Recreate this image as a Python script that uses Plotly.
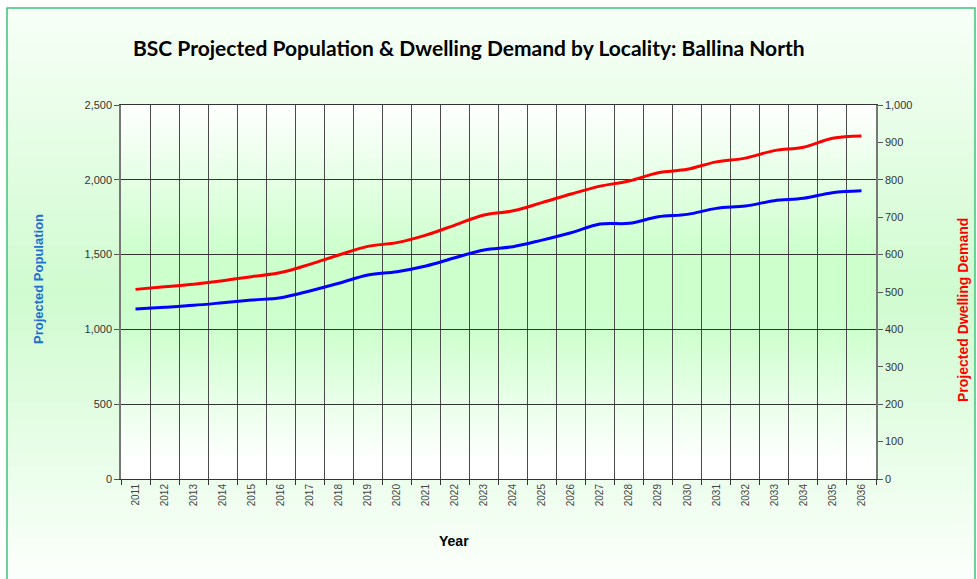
import base64
import struct
import zlib

import plotly.graph_objects as go

# ---- data -----------------------------------------------------------------
years = [str(y) for y in range(2011, 2037)]

population = [1136, 1148, 1161, 1178, 1196, 1212, 1257, 1308, 1364, 1386,
              1424, 1479, 1531, 1553, 1597, 1646, 1704, 1709, 1753, 1769,
              1809, 1825, 1860, 1876, 1914, 1927]

dwellings = [507, 514, 521, 530, 541, 552, 574, 599, 622, 632,
             652, 679, 706, 717, 739, 762, 783, 797, 819, 828,
             848, 858, 878, 887, 911, 917]

pop_ticks = [0, 500, 1000, 1500, 2000, 2500]
dwell_ticks = list(range(0, 1001, 100))

# ---- geometry (pixels) ----------------------------------------------------
W, H = 977, 579
L, R, T, B = 121, 876, 105, 479   # plot area edges


def px(xp):
    return (xp - L) / (R - L)


def py(yp):
    return (B - yp) / (B - T)


def png_gradient(stops, height=256):
    """Encode a 1-pixel-wide vertical gradient as a PNG data URI."""
    def lerp(c1, c2, f):
        return tuple(round(a + (b - a) * f) for a, b in zip(c1, c2))

    rows = b""
    for i in range(height):
        t = i / (height - 1)
        for (t0, c0), (t1, c1) in zip(stops[:-1], stops[1:]):
            if t0 <= t <= t1:
                f = 0 if t1 == t0 else (t - t0) / (t1 - t0)
                col = lerp(c0, c1, f)
                break
        rows += b"\x00" + bytes(col)

    def chunk(tag, data):
        c = struct.pack(">I", len(data)) + tag + data
        return c + struct.pack(">I", zlib.crc32(tag + data) & 0xFFFFFFFF)

    png = b"\x89PNG\r\n\x1a\n"
    png += chunk(b"IHDR", struct.pack(">IIBBBBB", 1, height, 8, 2, 0, 0, 0))
    png += chunk(b"IDAT", zlib.compress(rows))
    png += chunk(b"IEND", b"")
    return "data:image/png;base64," + base64.b64encode(png).decode()


WHITE = (255, 255, 255)
outer_bg = png_gradient([(0.0, (248, 255, 248)), (0.5, (208, 251, 208)),
                         (1.0, (252, 255, 252))])
inner_bg = png_gradient([(0.0, WHITE), (0.40, (204, 255, 204)),
                         (0.60, (206, 255, 206)), (0.95, WHITE), (1.0, WHITE)])

fig = go.Figure()

fig.add_trace(go.Scatter(
    x=years, y=population, name="Projected Population",
    mode="lines", line=dict(color="#0000FF", width=3, shape="spline"),
    yaxis="y",
))
fig.add_trace(go.Scatter(
    x=years, y=dwellings, name="Projected Dwelling Demand",
    mode="lines", line=dict(color="#FF0000", width=3, shape="spline"),
    yaxis="y2",
))

tick_font = dict(family="Arial, Liberation Sans", size=11, color="#333333")

fig.update_layout(
    width=W, height=H,
    margin=dict(l=L, r=W - R, t=T, b=H - B, pad=0),
    paper_bgcolor="white",
    plot_bgcolor="rgba(0,0,0,0)",
    showlegend=False,
    xaxis=dict(
        type="category", range=[-0.5, len(years) - 0.5],
        tickson="boundaries", ticks="outside", ticklen=5, tickcolor="#333",
        tickangle=-90, tickfont=dict(family="Arial, Liberation Sans", size=10,
                                     color="#444444"),
        showgrid=True, gridcolor="#4a4a4a", gridwidth=1.2,
        showline=True, linecolor="#333333", linewidth=1, mirror=True,
        zeroline=False,
    ),
    yaxis=dict(
        range=[0, 2500], tickvals=pop_ticks, tickformat=",",
        ticks="outside", ticklen=5, tickcolor="#555",
        tickfont=tick_font,
        showgrid=True, gridcolor="#333333", gridwidth=1,
        showline=True, linecolor="#777777", linewidth=1.5,
        zeroline=False,
    ),
    yaxis2=dict(
        overlaying="y", side="right",
        range=[0, 1000], tickvals=dwell_ticks, tickformat=",",
        ticks="outside", ticklen=5, tickcolor="#555",
        tickfont=tick_font,
        showgrid=False,
        showline=True, linecolor="#777777", linewidth=1.5,
        zeroline=False,
    ),
    images=[
        dict(source=outer_bg, xref="paper", yref="paper",
             x=px(7), y=py(8), sizex=px(975) - px(7), sizey=py(8) - py(H),
             xanchor="left", yanchor="top", sizing="stretch", layer="below"),
        dict(source=inner_bg, xref="paper", yref="paper",
             x=0, y=1, sizex=1, sizey=1,
             xanchor="left", yanchor="top", sizing="stretch", layer="below"),
    ],
    shapes=[
        dict(type="rect", xref="paper", yref="paper",
             x0=px(7), x1=px(975), y0=py(H + 10), y1=py(8),
             line=dict(color="#3CC47C", width=1.5), fillcolor="rgba(0,0,0,0)",
             layer="above"),
    ],
    annotations=[
        dict(text="<b>BSC Projected Population & Dwelling Demand by Locality: Ballina North</b>",
             xref="paper", yref="paper", x=px(469), y=py(47),
             xanchor="center", yanchor="middle", showarrow=False,
             font=dict(family="Lato, Open Sans", size=21, color="#000000")),
        dict(text="<b>Projected Population</b>",
             xref="paper", yref="paper", x=px(38), y=py(279),
             xanchor="center", yanchor="middle", showarrow=False, textangle=-90,
             font=dict(family="Arial, Liberation Sans", size=13, color="#1E6FD0")),
        dict(text="<b>Projected Dwelling Demand</b>",
             xref="paper", yref="paper", x=px(963), y=py(310),
             xanchor="center", yanchor="middle", showarrow=False, textangle=-90,
             font=dict(family="Arial, Liberation Sans", size=14, color="#FF0000")),
        dict(text="<b>Year</b>",
             xref="paper", yref="paper", x=px(454), y=py(541),
             xanchor="center", yanchor="middle", showarrow=False,
             font=dict(family="Liberation Sans Narrow, Arial", size=14, color="#000000")),
    ],
)

fig.write_html("out.html")
